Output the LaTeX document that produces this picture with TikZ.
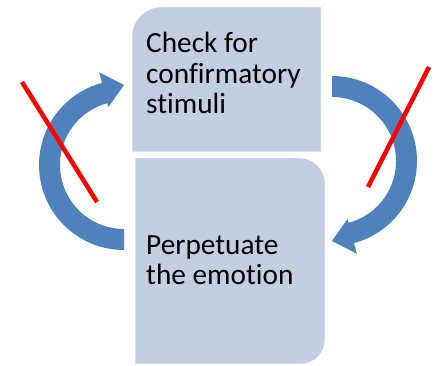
\documentclass[tikz,border=0pt]{standalone}
\usepackage{fontspec}
\setmainfont{Carlito}[Ligatures=NoCommon]
\definecolor{boxfill}{HTML}{C4CEE3}
\definecolor{arrowblue}{HTML}{4F81BD}
\definecolor{crossred}{HTML}{FF0000}
\tikzset{
  boxshape/.style={fill=boxfill, draw=white, line width=2.5pt},
  cyclearrow/.style={fill=arrowblue},
  crossline/.style={draw=crossred, line width=4.5pt},
  boxtext/.style={anchor=base west, inner sep=0pt, font=\fontsize{29.3}{31}\selectfont, text=black}
}
\begin{document}
\begin{tikzpicture}[x=1pt,y=1pt]
\useasboundingbox (0,0) rectangle (436,366);
% boxes
\path[boxshape] (131,213) -- (131,330) arc[start angle=180,end angle=90,radius=30pt] -- (322,360) -- (322,213) -- cycle;
\path[boxshape] (134,209) -- (300,209) arc[start angle=90,end angle=0,radius=26pt] -- (326,26) arc[start angle=0,end angle=-90,radius=25pt] -- (134,1) -- cycle;
% left circular arrow
\begin{scope}[shift={(124,201)}]
\path[cyclearrow] (270:85pt) arc[start angle=270,end angle=105,radius=85pt]
  -- (105:96pt) -- (90:80pt) -- (105:60pt) -- (105:64pt)
  arc[start angle=105,end angle=270,radius=64pt] -- cycle;
\end{scope}
% right circular arrow
\begin{scope}[shift={(332,205)}]
\path[cyclearrow] (90:85pt) arc[start angle=90,end angle=-75,radius=85pt]
  -- (-75:96pt) -- (-90:80pt) -- (-75:60pt) -- (-75:64pt)
  arc[start angle=-75,end angle=90,radius=64pt] -- cycle;
\end{scope}
% red crosses
\coordinate (l1) at (22,284);
\coordinate (l2) at (97,164);
\coordinate (r1) at (429,299);
\coordinate (r2) at (368,179);
\draw[crossline] (l1) -- (l2);
\draw[crossline] (r1) -- (r2);
% texts
\node[boxtext] (t1) at (146,313) {Check for};
\node[boxtext] (t2) at (146,282) {confirmatory};
\node[boxtext] (t3) at (146,252) {stimuli};
\node[boxtext] (b1) at (146,111) {Perpetuate};
\node[boxtext] (b2) at (146,81) {the emotion};
\end{tikzpicture}
\end{document}
